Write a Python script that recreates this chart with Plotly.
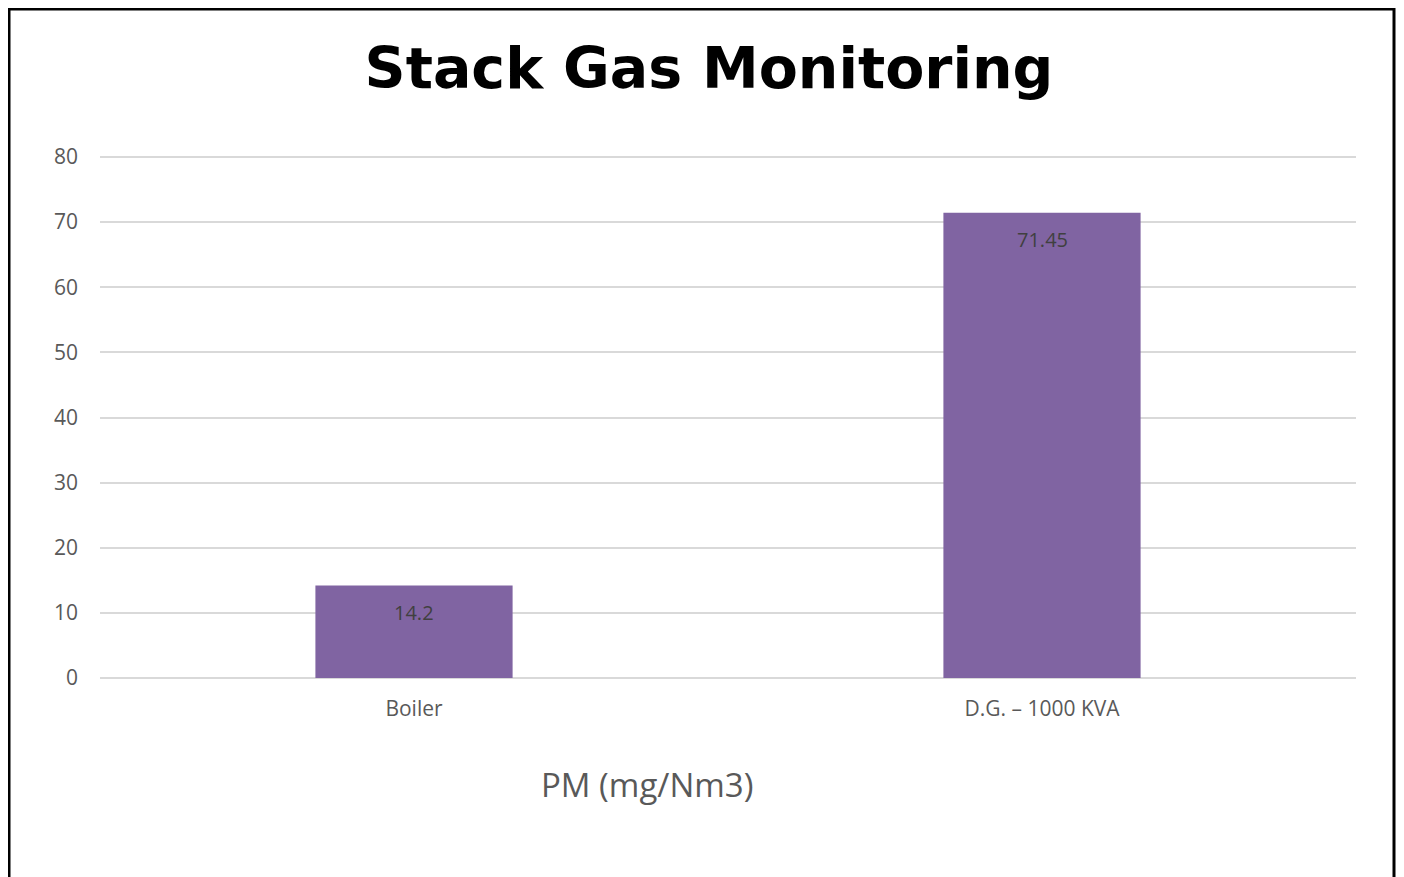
import plotly.graph_objects as go

categories = ["Boiler", "D.G. – 1000 KVA"]
pm_values = [14.2, 71.45]
value_labels = ["14.2", "71.45"]
y_ticks = [0, 10, 20, 30, 40, 50, 60, 70, 80]

BAR_COLOR = "#8064A2"
GRID = "#d9d9d9"
TICK_COLOR = "#595959"
BODY_FONT = "Open Sans"

# page has an 8px body margin; figure coordinates = page coordinates - 8
W, H = 1388, 869
L, T = 92, 147
PW, PH = 1256, 523
R, B = W - L - PW, H - T - PH
Y0 = T + PH  # figure y of value 0
Y_MAX = 80 + 2 / (521 / 80)

fig = go.Figure()
fig.add_trace(go.Bar(
    x=categories,
    y=pm_values,
    width=0.314,
    marker=dict(color=BAR_COLOR, line=dict(width=0)),
    hoverinfo="x+y",
))

annotations = []
for c, v, t in zip(categories, pm_values, value_labels):
    annotations.append(dict(
        x=c, y=v, xref="x", yref="y", text=t, showarrow=False,
        yanchor="middle", yshift=-27,
        font=dict(family=BODY_FONT, size=20, color="#404040"),
    ))

annotations.append(dict(
    x=(647 - 8 - L) / PW, y=(Y0 - (784 - 8)) / PH, xref="paper", yref="paper",
    text="PM (mg/Nm3)", showarrow=False, xanchor="center", yanchor="middle",
    font=dict(family=BODY_FONT, size=33, color=TICK_COLOR),
))

fig.update_layout(
    width=W, height=H,
    margin=dict(l=L, r=R, t=T, b=B),
    paper_bgcolor="white", plot_bgcolor="white",
    showlegend=False,
    title=dict(
        text="<b>Stack Gas Monitoring</b>",
        x=(709 - 8) / W, xref="container", xanchor="center",
        y=1 - (68 - 8) / H, yref="container", yanchor="middle",
        font=dict(family="DejaVu Sans", size=57, color="black"),
    ),
    annotations=annotations,
    shapes=[dict(
        type="rect", xref="paper", yref="paper",
        x0=(1 - L) / PW, x1=(W - 2 - L) / PW,
        y0=(Y0 - 900) / PH, y1=(Y0 - 1) / PH,
        line=dict(color="black", width=3), fillcolor="rgba(0,0,0,0)",
        layer="above",
    )],
    xaxis=dict(
        showgrid=False, showline=True, linecolor=GRID, linewidth=1,
        tickfont=dict(family=BODY_FONT, size=21, color=TICK_COLOR),
        ticks="", ticklabelstandoff=12,
    ),
    yaxis=dict(
        range=[0, Y_MAX], tickvals=y_ticks,
        showgrid=True, gridcolor=GRID, gridwidth=1.5,
        zeroline=True, zerolinecolor=GRID, zerolinewidth=1.5,
        showline=False, ticks="",
        tickfont=dict(family=BODY_FONT, size=21, color=TICK_COLOR),
        ticklabelstandoff=21,
    ),
)

fig.write_html("out.html")
